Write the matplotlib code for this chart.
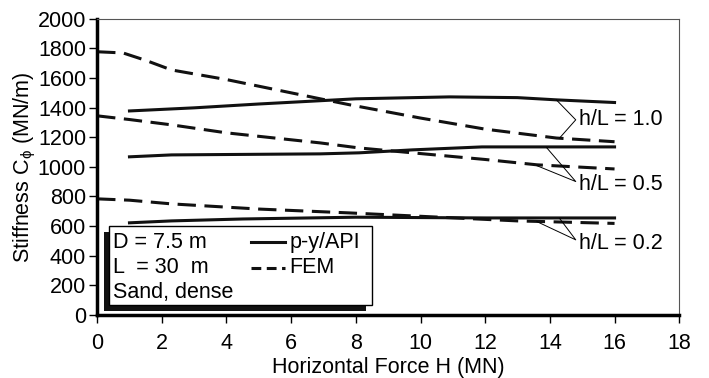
import numpy as np
import matplotlib.pyplot as plt
from matplotlib.patches import Rectangle
from matplotlib.lines import Line2D

plt.rcParams['font.family'] = ['Liberation Sans', 'DejaVu Sans']

# FEM curves (dashed)
fem_10_x = [0, 0.8, 1.5, 2.3, 4, 6.9, 7.8, 10, 12, 14.2, 16]
fem_10_y = [1778, 1770, 1720, 1655, 1590, 1460, 1420, 1330, 1255, 1195, 1170]
fem_05_x = [0, 1, 2.3, 4, 6.9, 8.1, 9.75, 12, 13.6, 16]
fem_05_y = [1345, 1320, 1284, 1230, 1162, 1128, 1095, 1050, 1014, 986]
fem_02_x = [0, 1, 2.3, 5, 7.8, 10.4, 13, 16]
fem_02_y = [784, 775, 750, 715, 689, 662, 635, 618]

# p-y/API curves (solid)
py_10_x = [1, 3, 5, 8, 10.9, 13, 14.2, 16]
py_10_y = [1378, 1399, 1425, 1460, 1473, 1468, 1453, 1435]
py_05_x = [1, 2.3, 6.9, 8.1, 9.75, 11.9, 16]
py_05_y = [1068, 1081, 1088, 1095, 1115, 1135, 1135]
py_02_x = [1, 2.3, 4.5, 8, 12, 16]
py_02_y = [622, 635, 648, 660, 655, 655]

FS = 15.5

fig = plt.figure(figsize=(7.09, 3.78), dpi=100)
ax = fig.add_axes([0.137, 0.167, 0.821, 0.783])

dash = (6, 2.8)
for x, y in [(fem_10_x, fem_10_y), (fem_05_x, fem_05_y), (fem_02_x, fem_02_y)]:
    ax.plot(x, y, color='#111111', lw=2.2, dashes=dash)
for x, y in [(py_10_x, py_10_y), (py_05_x, py_05_y), (py_02_x, py_02_y)]:
    ax.plot(x, y, color='#111111', lw=2.2)

ax.set_xlim(0, 18)
ax.set_ylim(0, 2000)
ax.set_xticks(np.arange(0, 19, 2))
ax.set_yticks(np.arange(0, 2001, 200))
ax.tick_params(direction='out', length=6, width=1, labelsize=FS)
ax.tick_params(axis='x', pad=7)
ax.tick_params(axis='y', pad=2)
for s in ['left', 'bottom']:
    ax.spines[s].set_linewidth(2.5)
for s in ['top', 'right']:
    ax.spines[s].set_linewidth(0.8)
    ax.spines[s].set_color('#555555')
ax.set_xlabel('Horizontal Force H (MN)', fontsize=FS, labelpad=2)
ax.set_ylabel(r'Stiffness C$_\mathregular{\phi}$ (MN/m)', fontsize=FS, labelpad=0)

# leader lines and labels
leaders = [
    ((14.2, 1453), (14.8, 1318), (14.3, 1195), 'h/L = 1.0', 1318),
    ((13.9, 1130), (14.8, 901), (13.6, 1008), 'h/L = 0.5', 880),
    ((14.3, 652), (14.8, 507), (13.6, 630), 'h/L = 0.2', 485),
]
for p1, v, p2, lab, ty in leaders:
    ax.plot([p1[0], v[0], p2[0]], [p1[1], v[1], p2[1]], color='black', lw=0.7)
    ax.text(14.9, ty, lab, fontsize=FS, va='center', ha='left')

# legend box with shadow
ax.add_patch(Rectangle((0.22, 28), 8.1, 530, facecolor='#111111',
                       edgecolor='none', zorder=4))
ax.add_patch(Rectangle((0.37, 68), 8.13, 533, facecolor='white',
                       edgecolor='black', lw=1, zorder=5))
ax.text(0.5, 490, 'D = 7.5 m', fontsize=FS, va='center', zorder=6)
ax.text(0.5, 320, 'L  = 30  m', fontsize=FS, va='center', zorder=6)
ax.text(0.5, 150, 'Sand, dense', fontsize=FS, va='center', zorder=6)
ax.add_line(Line2D([4.75, 5.8], [490, 490], color='#111111', lw=2.2, zorder=6))
ax.add_line(Line2D([4.75, 5.8], [320, 320], color='#111111', lw=2.2,
                   dashes=(3.2, 1.8), zorder=6))
ax.text(5.95, 490, 'p-y/API', fontsize=FS, va='center', zorder=6)
ax.text(5.95, 320, 'FEM', fontsize=FS, va='center', zorder=6)

fig.savefig('out.png', dpi=100)
